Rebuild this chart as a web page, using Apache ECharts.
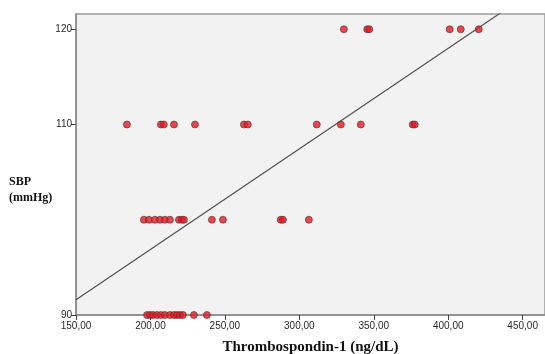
<!DOCTYPE html>
<html>
<head>
<meta charset="utf-8">
<script src="https://cdn.jsdelivr.net/npm/echarts@6/dist/echarts.min.js"></script>
<style>
html,body{margin:0;padding:0;background:#fff;}
#chart{width:545px;height:354px;}
</style>
</head>
<body>
<div id="chart"></div>
<script>
// Thrombospondin-1 values (ng/dL) for each SBP level (mmHg)
var tsp_sbp90  = [197.7, 199.7, 201.7, 204.4, 207.0, 209.7, 213.1, 215.8, 217.8, 219.8, 221.8, 229.2, 237.9];
var tsp_sbp100 = [195.6, 199.0, 203.0, 206.4, 209.7, 213.1, 219.1, 221.1, 222.5, 241.3, 248.7, 287.5, 289.0, 306.4];
var tsp_sbp110 = [184.2, 207.0, 209.0, 215.8, 229.9, 262.8, 265.4, 311.7, 327.9, 341.3, 376.2, 377.5];
var tsp_sbp120 = [329.9, 345.6, 347.0, 401.0, 408.4, 420.5];
var sbpLevels = [90, 100, 110, 120];

// Fit line parameters: SBP = intercept + slope * TSP-1
var fitIntercept = 75.76;
var fitSlope = 0.1056;

var xTicks = [150, 200, 250, 300, 350, 400, 450];
var yTickValues = [90, 110, 120];

var xMin = 150, xMax = 465, yMin = 90, yMax = 121.6;

var groups = [tsp_sbp90, tsp_sbp100, tsp_sbp110, tsp_sbp120];
var points = [];
groups.forEach(function (arr, i) {
  arr.forEach(function (x) { points.push([x, sbpLevels[i]]); });
});
var fitData = [[xMin, fitIntercept + fitSlope * xMin], [xMax, fitIntercept + fitSlope * xMax]];

var chart = echarts.init(document.getElementById('chart'), null, {renderer: 'canvas'});
chart.setOption({
  animation: false,
  backgroundColor: '#ffffff',
  grid: {
    left: 76, top: 14, right: 0, bottom: 39,
    outerBoundsMode: 'none', containLabel: false,
    show: true, backgroundColor: '#f2f2f2', borderColor: '#9a9a9a', borderWidth: 1.5
  },
  xAxis: {
    type: 'value', min: xMin, max: xMax, interval: 50,
    axisLine: {show: true, onZero: false, lineStyle: {color: '#8a8a8a', width: 1.5}},
    axisTick: {show: true, length: 5, lineStyle: {color: '#444'}},
    splitLine: {show: false},
    axisLabel: {
      color: '#2a2a2a', fontFamily: 'Liberation Sans, Arial, sans-serif', fontSize: 10, margin: 6,
      showMaxLabel: false,
      formatter: function (v) { return v.toFixed(2).replace('.', ','); }
    },
    name: 'Thrombospondin-1 (ng/dL)', nameLocation: 'middle', nameGap: 25,
    nameTextStyle: {fontFamily: 'Liberation Serif, Times New Roman, serif', fontWeight: 'bold', fontSize: 15, color: '#111'}
  },
  yAxis: {
    type: 'value', min: yMin, max: yMax, interval: 10,
    axisLine: {show: true, onZero: false, lineStyle: {color: '#8a8a8a', width: 1.5}},
    axisTick: {show: true, length: 5, customValues: yTickValues, lineStyle: {color: '#444'}},
    splitLine: {show: false},
    axisLabel: {
      color: '#2a2a2a', fontFamily: 'Liberation Sans, Arial, sans-serif', fontSize: 10, margin: 4,
      customValues: yTickValues
    }
  },
  graphic: [{
    type: 'text', left: 9, top: 174,
    style: {
      text: 'SBP\n(mmHg)', fill: '#111',
      font: 'bold 12px "Liberation Serif", "Times New Roman", serif', lineHeight: 16
    }
  }],
  series: [{
    type: 'line', data: fitData, showSymbol: false, symbol: 'none', clip: true,
    lineStyle: {color: '#505050', width: 1.2}, z: 2, silent: true
  }, {
    type: 'scatter', data: points, symbolSize: 7, clip: true,
    itemStyle: {color: '#e41a22', borderColor: '#553333', borderWidth: 0.8}, z: 3
  }]
});
</script>
</body>
</html>
